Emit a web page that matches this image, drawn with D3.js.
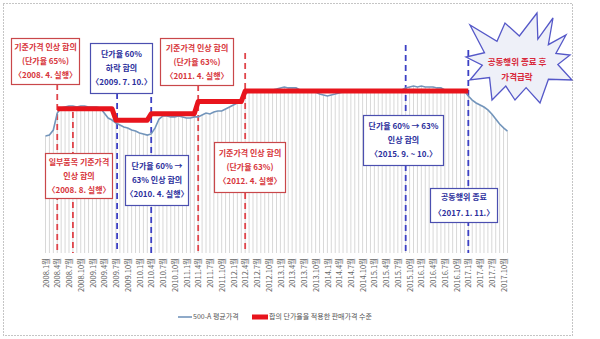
<!DOCTYPE html>
<html>
<head>
<meta charset="utf-8">
<script src="https://cdn.jsdelivr.net/npm/d3@7"></script>
<style>
  html, body { margin: 0; padding: 0; background: #fff; }
  svg { display: block; font-family: "Noto Sans CJK KR", "Noto Sans", sans-serif; }
</style>
</head>
<body>
<svg id="chart" width="600" height="339"></svg>
<script>
// Monthly categories, 2008.1 – 2017.11
const years = d3.range(2008, 2018);
const months = [];
years.forEach(y => d3.range(1, 13).forEach(m => {
  if (y < 2017 || m <= 11) months.push({ y, m });
}));

// 500-A average price (index, agreed level from 2012.4 = 100)
const avgPrice = [
  72.2, 72.8, 75.9, 86.4, 89.5, 90.1, 90.7, 90.7, 90.1, 90.7, 90.7, 90.1,
  90.1, 90.1, 89.5, 86.4, 83.3, 82.1, 80.2, 79.0, 77.8, 77.2, 75.9, 75.3,
  74.1, 73.5, 72.8, 73.5, 77.2, 82.7, 84.6, 84.6, 84.0, 84.0, 84.6, 84.0,
  83.3, 83.3, 84.0, 84.0, 85.2, 86.4, 85.8, 87.0, 87.7, 87.7, 88.9, 90.1,
  91.4, 92.6, 94.4, 98.1, 100.0, 100.6, 100.6, 100.0, 100.0, 100.6, 100.6, 101.2,
  101.9, 102.5, 101.9, 101.9, 101.9, 100.6, 100.0, 100.6, 100.0, 99.4, 98.1, 97.5,
  96.9, 97.5, 98.1, 98.8, 99.4, 100.0, 100.6, 100.6, 100.6, 100.0, 100.6, 100.6,
  100.0, 100.0, 100.6, 100.0, 100.6, 100.0, 100.6, 100.6, 101.9, 102.5, 103.1, 102.5,
  103.1, 102.5, 102.5, 102.5, 101.9, 101.9, 100.6, 100.6, 100.6, 100.6, 100.0, 100.0,
  96.9, 94.4, 92.6, 91.4, 90.1, 88.3, 85.8, 82.7, 79.6, 77.2, 75.3
];

// Sales price level under the agreed unit-price rate (same index)
const agreedSteps = [
  { from: 3,  to: 17,  value: 89 },   // 65%  (2008.4)
  { from: 18, to: 26,  value: 82 },   // 60%  (2009.7)
  { from: 27, to: 38,  value: 86 },   // 63%  (2010.4)
  { from: 39, to: 50,  value: 93.5 }, // 2011.4 base price raise
  { from: 51, to: 108, value: 100 }   // 2012.4 base price raise, until 2017.1
];
const agreedPrice = months.map((d, i) => {
  const s = agreedSteps.find(s => i >= s.from && i <= s.to);
  return s ? s.value : null;
});

// Event notes
const eventNotes = [
  { date: [2008, 4],      kind: "red",  lines: ["기준가격 인상 합의", "(단가율 65%)", "〈2008. 4. 실행〉"] },
  { date: [2009, 7, 10],  kind: "blue", lines: ["단가율 60%", "하락 합의", "〈2009. 7. 10.〉"] },
  { date: [2008, 8],      kind: "red",  lines: ["일부품목 기준가격", "인상 합의", "〈2008. 8. 실행〉"] },
  { date: [2010, 4],      kind: "blue", lines: ["단가율 60% →", "63% 인상 합의", "〈2010. 4. 실행〉"] },
  { date: [2011, 4],      kind: "red",  lines: ["기준가격 인상 합의", "(단가율 63%)", "〈2011. 4. 실행〉"] },
  { date: [2012, 4],      kind: "red",  lines: ["기준가격 인상 합의", "(단가율 63%)", "〈2012. 4. 실행〉"] },
  { date: [2015, 9],      kind: "blue", lines: ["단가율 60% → 63%", "인상 합의", "〈2015. 9. ~ 10.〉"] },
  { date: [2017, 1],      kind: "blue", lines: ["공동행위 종료", "〈2017. 1. 11.〉"] }
];

const seriesNames = ["500-A 평균가격", "합의 단가율을 적용한 판매가격 수준"];
const burstLines = ["공동행위 종료 후", "가격급락"];

// ---- layout ----
const svg = d3.select("#chart");
const plotBottom = 253;
const colors = {
  avg: "#7395bb", agreed: "#e8141c", drop: "#d8d8d8",
  red: "#d7353b", redBorder: "#c9474a", blue: "#2b2e9c", blueBorder: "#4b4fb0"
};

const x = d3.scaleLinear().domain([0, months.length - 1]).range([45.5, 45.5 + 3.915 * (months.length - 1)]);
const y = d3.scaleLinear().domain([0, 100]).range([plotBottom, 91]);

const monthIndex = d => (d[0] - 2008) * 12 + (d[1] - 1) + (d[2] ? (d[2] - 1) / 31 : 0);

// Drop lines under the average-price series
svg.append("g").selectAll("line").data(avgPrice).join("line")
  .attr("x1", (d, i) => x(i)).attr("x2", (d, i) => x(i))
  .attr("y1", d => y(d)).attr("y2", plotBottom)
  .attr("stroke", colors.drop).attr("stroke-width", 1);

// Month axis
const axis = d3.axisBottom(x)
  .tickValues(d3.range(0, months.length, 3))
  .tickSize(0)
  .tickFormat(i => `${months[i].y}.${months[i].m}월`);
const gx = svg.append("g").attr("transform", `translate(0,${plotBottom + 5})`).call(axis);
gx.select(".domain").remove();
gx.selectAll("text")
  .attr("transform", "rotate(-90)")
  .attr("x", 0).attr("y", 0).attr("dy", "0.35em")
  .style("text-anchor", "end")
  .attr("fill", "#666").style("font-size", "7.5px")
  .style("font-family", "'Noto Sans CJK KR', sans-serif");

// Layout of the note boxes and the span of each dashed marker
const noteLayout = [
  { box: [11, 38, 68, 46],  lineTop: 84 },
  { box: [90, 43, 62, 50],  lineTop: 93 },
  { box: [45, 153, 67, 45], lineTop: 112 },
  { box: [125, 155, 63, 50], lineTop: 87 },
  { box: [160, 38, 73, 47], lineTop: 85 },
  { box: [214, 142, 71, 50], lineTop: 53 },
  { box: [363, 115, 80, 50], lineTop: 45 },
  { box: [430, 188, 67, 34], lineTop: 50 }
];

// Dashed event markers
svg.append("g").selectAll("line").data(eventNotes).join("line")
  .attr("x1", d => x(monthIndex(d.date))).attr("x2", d => x(monthIndex(d.date)))
  .attr("y1", (d, i) => noteLayout[i].lineTop).attr("y2", plotBottom)
  .attr("stroke", d => d.kind === "red" ? "#e0454b" : "#3c40c4")
  .attr("stroke-width", 1.8).attr("stroke-dasharray", "6,4");

// Series lines
const line = d3.line().defined(d => d != null).x((d, i) => x(i)).y(d => y(d));
svg.append("path").datum(avgPrice).attr("d", line)
  .attr("fill", "none").attr("stroke", colors.avg).attr("stroke-width", 1.6);
svg.append("path").datum(agreedPrice).attr("d", line)
  .attr("fill", "none").attr("stroke", colors.agreed).attr("stroke-width", 5)
  .attr("stroke-linejoin", "round");

// Note boxes
const notes = svg.append("g").selectAll("g").data(eventNotes).join("g");
notes.append("rect")
  .attr("x", (d, i) => noteLayout[i].box[0] + 0.5).attr("y", (d, i) => noteLayout[i].box[1] + 0.5)
  .attr("width", (d, i) => noteLayout[i].box[2]).attr("height", (d, i) => noteLayout[i].box[3])
  .attr("fill", "#fff")
  .attr("stroke", d => d.kind === "red" ? colors.redBorder : colors.blueBorder)
  .attr("stroke-width", 1.2);
notes.each(function(d, i) {
  const [bx, by, bw, bh] = noteLayout[i].box;
  const lh = d.lines.length === 2 ? 16 : 14;
  const cy = by + bh / 2 + 0.5;
  d3.select(this).selectAll("text").data(d.lines).join("text")
    .attr("x", bx + bw / 2 + 0.5)
    .attr("y", (t, k) => cy + (k - (d.lines.length - 1) / 2) * lh)
    .attr("dy", "0.35em")
    .attr("text-anchor", "middle")
    .attr("fill", d.kind === "red" ? colors.red : colors.blue)
    .style("font-size", "8px").style("font-weight", "700")
    .text(t => t);
});

// Starburst callout
const cx = 520, cyB = 62;
const spikes = [
  [17, -49], [-15, -39], [-50, -37], [-54, -5], [-50, 18], [-28, 38],
  [-5, 38], [20, 41], [52, 18], [50, -7], [46, -27], [33, -44]
];
const burst = [];
spikes.forEach((p, k) => {
  const q = spikes[(k + 1) % spikes.length];
  burst.push([cx + p[0], cyB + p[1]]);
  const a1 = Math.atan2(p[1], p[0]), a2 = Math.atan2(q[1], q[0]);
  let da = a2 - a1;
  if (da > Math.PI) da -= 2 * Math.PI;
  if (da < -Math.PI) da += 2 * Math.PI;
  const a = a1 + da / 2;
  burst.push([cx + 38 * Math.cos(a), cyB + 26 * Math.sin(a)]);
});
svg.append("path")
  .attr("d", "M" + burst.map(p => p.join(",")).join("L") + "Z")
  .attr("fill", "#eef0f8").attr("stroke", "#5558c8").attr("stroke-width", 1.3)
  .attr("stroke-linejoin", "miter");
svg.append("g").selectAll("text").data(burstLines).join("text")
  .attr("x", 517).attr("y", (d, k) => 62 + k * 15).attr("dy", "0.35em")
  .attr("text-anchor", "middle").attr("fill", "#d8283a")
  .style("font-size", "8.5px").style("font-weight", "700")
  .text(d => d);

// Legend
const legend = svg.append("g").attr("transform", "translate(0,317)");
legend.append("line").attr("x1", 178).attr("x2", 192).attr("y1", 0).attr("y2", 0)
  .attr("stroke", colors.avg).attr("stroke-width", 1.6);
legend.append("text").attr("x", 193).attr("y", 0).attr("dy", "0.35em")
  .attr("fill", "#555").style("font-size", "7px").text(seriesNames[0]);
legend.append("rect").attr("x", 252).attr("y", -2.5).attr("width", 16).attr("height", 5)
  .attr("fill", colors.agreed);
legend.append("text").attr("x", 269).attr("y", 0).attr("dy", "0.35em")
  .attr("fill", "#555").style("font-size", "7px").text(seriesNames[1]);

// Dotted frame
svg.append("rect").attr("x", 3.5).attr("y", 3.5).attr("width", 569).attr("height", 332)
  .attr("fill", "none").attr("stroke", "#8a8a8a").attr("stroke-width", 1)
  .attr("stroke-dasharray", "1,2");
</script>
</body>
</html>
